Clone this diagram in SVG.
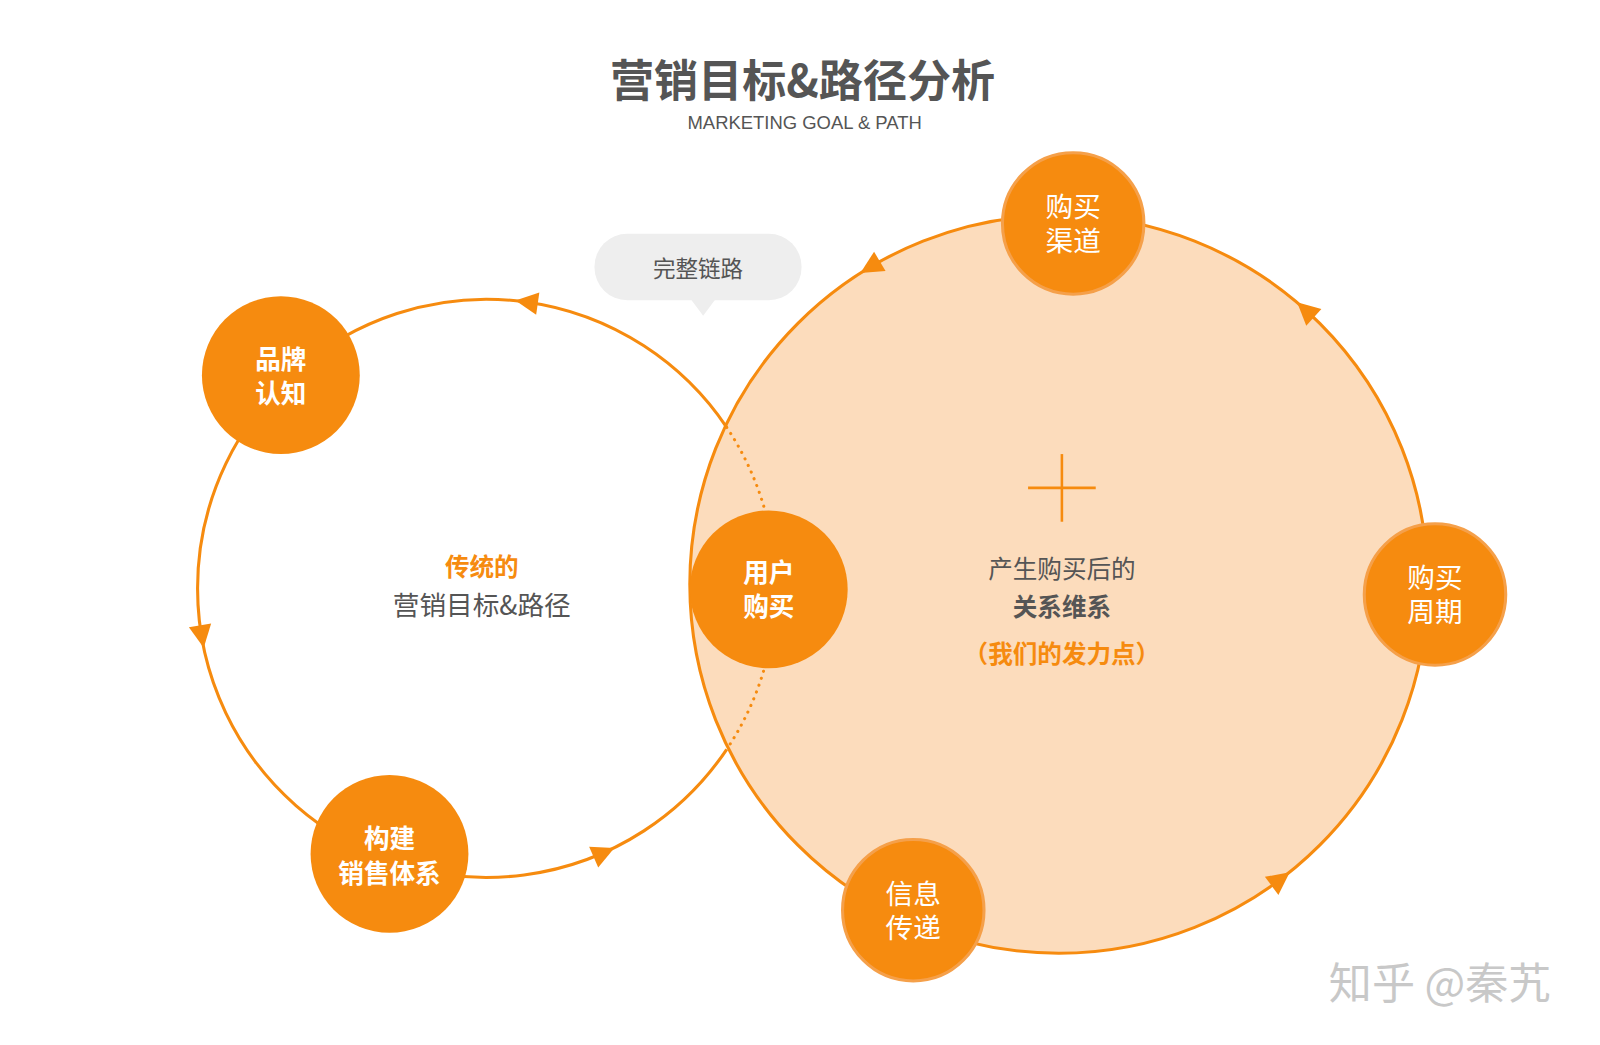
<svg xmlns="http://www.w3.org/2000/svg" width="1600" height="1045" viewBox="0 0 1600 1045">
<style>
.cjk{font-family:"Noto Sans CJK SC","Noto Sans",sans-serif}
.node{fill:#f68b0f}
.ntb{font-family:"Noto Sans CJK SC",sans-serif;font-weight:700;font-size:25px;fill:#fff;text-anchor:middle}
.ntn{font-family:"Noto Sans CJK SC",sans-serif;font-size:27px;fill:#fff;text-anchor:middle}
.arr{fill:#f68b0f}
</style>
<rect width="1600" height="1045" fill="#fff"/>
<g transform="scale(1.025)">
<g id="title">
<text x="783" y="95" class="cjk" font-size="43" font-weight="700" fill="#555" text-anchor="middle">营销目标&amp;路径分析</text>
<text x="785" y="126" font-family="Liberation Sans,sans-serif" font-size="18" fill="#555" text-anchor="middle">MARKETING GOAL &amp; PATH</text>
</g>
<g id="connectors">
<circle cx="1033" cy="570" r="360" fill="#fcdcbc" stroke="#f68b0f" stroke-width="3"/>
<path d="M709,417 A282,282 0 1 0 709,731" fill="none" stroke="#f68b0f" stroke-width="3"/>
<path d="M709,417 A282,282 0 0 1 709,731" fill="none" stroke="#f68b0f" stroke-width="3" stroke-dasharray="0.1 7" stroke-linecap="round"/>
<g class="arr">
<path transform="translate(475,574) rotate(-81.9) translate(282,0) rotate(-90)" d="M12,0 L-10,-11 L-10,11Z"/>
<path transform="translate(475,574) rotate(170.6) translate(282,0) rotate(-90)" d="M12,0 L-10,-11 L-10,11Z"/>
<path transform="translate(475,574) rotate(66.3) translate(282,0) rotate(-90)" d="M12,0 L-10,-11 L-10,11Z"/>
<path transform="translate(1033,570) rotate(-120.6) translate(360,0) rotate(-90)" d="M12,0 L-10,-11 L-10,11Z"/>
<path transform="translate(1033,570) rotate(-47.9) translate(360,0) rotate(-90)" d="M12,0 L-10,-11 L-10,11Z"/>
<path transform="translate(1033,570) rotate(53.2) translate(360,0) rotate(-90)" d="M12,0 L-10,-11 L-10,11Z"/>
</g>
</g>
<g id="bubble">
<rect x="580" y="228" width="202" height="65" rx="32" fill="#eeeeee"/>
<path d="M674,292 L686,308 L698,292Z" fill="#eeeeee"/>
<text x="681" y="270" class="cjk" font-size="22" fill="#555" text-anchor="middle">完整链路</text>
</g>
<g id="plus" stroke="#f68b0f" stroke-width="2.5">
<line x1="1036" y1="443" x2="1036" y2="509"/>
<line x1="1003" y1="476" x2="1069" y2="476"/>
</g>
<g id="left-center">
<text x="470" y="562" class="cjk" font-size="24" font-weight="700" fill="#f68b0f" text-anchor="middle">传统的</text>
<text x="470" y="600" class="cjk" font-size="26" fill="#555" text-anchor="middle">营销目标&amp;路径</text>
</g>
<g id="right-center">
<text x="1036" y="564" class="cjk" font-size="24" fill="#555" text-anchor="middle">产生购买后的</text>
<text x="1036" y="601" class="cjk" font-size="24" font-weight="700" fill="#555" text-anchor="middle">关系维系</text>
<text x="1036" y="647" class="cjk" font-size="24" font-weight="700" fill="#f68b0f" text-anchor="middle">（我们的发力点）</text>
</g>
<g id="n-brand"><circle class="node" cx="274" cy="366" r="77"/><text class="ntb" x="274" y="360">品牌</text><text class="ntb" x="274" y="393">认知</text></g>
<g id="n-buy"><circle class="node" cx="750" cy="575" r="77"/><text class="ntb" x="750" y="568">用户</text><text class="ntb" x="750" y="601">购买</text></g>
<g id="n-sales"><circle class="node" cx="380" cy="833" r="77"/><text class="ntb" x="380" y="827">构建</text><text class="ntb" x="380" y="861">销售体系</text></g>
<g id="n-channel"><circle class="node" cx="1047" cy="218" r="69" stroke="#f5a04a" stroke-width="3"/><text class="ntn" x="1047" y="212">购买</text><text class="ntn" x="1047" y="245">渠道</text></g>
<g id="n-cycle"><circle class="node" cx="1400" cy="580" r="69" stroke="#f5a04a" stroke-width="3"/><text class="ntn" x="1400" y="574">购买</text><text class="ntn" x="1400" y="607">周期</text></g>
<g id="n-info"><circle class="node" cx="891" cy="888" r="69" stroke="#f5a04a" stroke-width="3"/><text class="ntn" x="891" y="882">信息</text><text class="ntn" x="891" y="915">传递</text></g>
<text x="1405" y="975" class="cjk" font-size="42" fill="#c8c8c8" text-anchor="middle">知乎 @秦艽</text>
</g>
</svg>
